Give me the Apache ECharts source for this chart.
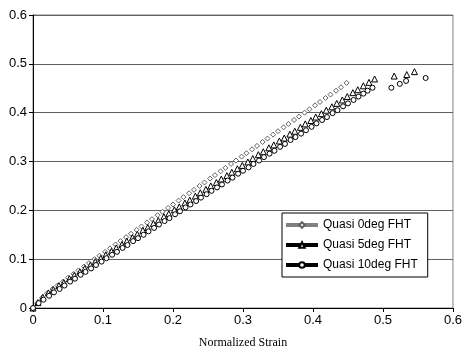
<!DOCTYPE html>
<html>
<head>
<meta charset="utf-8">
<script src="https://cdn.jsdelivr.net/npm/echarts@6/dist/echarts.min.js"></script>
<style>
  html, body { margin: 0; padding: 0; background: #fff; }
  #main { width: 465px; height: 354px; }
</style>
</head>
<body>
<div id="main"></div>
<script>
// tick labels
var xTicks = [0, 0.1, 0.2, 0.3, 0.4, 0.5, 0.6]
var yTicks = [0, 0.1, 0.2, 0.3, 0.4, 0.5, 0.6]

// Quasi 0deg FHT  [strain, stress]
var quasi0 = [
  [0, 0], [0.006, 0.010], [0.013, 0.021], [0.020, 0.030], [0.028, 0.039], [0.035, 0.046],
  [0.043, 0.054], [0.050, 0.062], [0.058, 0.070], [0.065, 0.077], [0.073, 0.085], [0.080, 0.092],
  [0.088, 0.100], [0.095, 0.107], [0.103, 0.115], [0.110, 0.122], [0.118, 0.130], [0.125, 0.137],
  [0.133, 0.145], [0.140, 0.152], [0.148, 0.160], [0.155, 0.167], [0.163, 0.175], [0.170, 0.182],
  [0.178, 0.190], [0.185, 0.197], [0.193, 0.205], [0.200, 0.212], [0.208, 0.220], [0.215, 0.227],
  [0.223, 0.235], [0.230, 0.242], [0.238, 0.250], [0.245, 0.257], [0.253, 0.265], [0.260, 0.272],
  [0.268, 0.280], [0.275, 0.287], [0.283, 0.295], [0.290, 0.302], [0.298, 0.310], [0.305, 0.317],
  [0.313, 0.325], [0.320, 0.332], [0.328, 0.340], [0.335, 0.347], [0.343, 0.355], [0.350, 0.362],
  [0.358, 0.370], [0.365, 0.377], [0.373, 0.385], [0.380, 0.392], [0.388, 0.400], [0.395, 0.407],
  [0.403, 0.415], [0.410, 0.422], [0.418, 0.430], [0.425, 0.437], [0.433, 0.445], [0.440, 0.452],
  [0.448, 0.461]
]

// Quasi 5deg FHT
var quasi5 = [
  [0, 0], [0.007, 0.011], [0.014, 0.022], [0.022, 0.031], [0.029, 0.038], [0.037, 0.046],
  [0.044, 0.052], [0.052, 0.060], [0.059, 0.067], [0.067, 0.074], [0.074, 0.081], [0.082, 0.088],
  [0.089, 0.095], [0.097, 0.102], [0.104, 0.109], [0.112, 0.116], [0.119, 0.123], [0.127, 0.130],
  [0.134, 0.137], [0.142, 0.144], [0.149, 0.151], [0.157, 0.159], [0.164, 0.165], [0.172, 0.173],
  [0.179, 0.179], [0.187, 0.187], [0.194, 0.193], [0.202, 0.201], [0.209, 0.207], [0.217, 0.215],
  [0.224, 0.221], [0.232, 0.229], [0.239, 0.236], [0.247, 0.243], [0.254, 0.250], [0.262, 0.257],
  [0.269, 0.264], [0.277, 0.271], [0.284, 0.278], [0.292, 0.285], [0.299, 0.292], [0.307, 0.299],
  [0.314, 0.306], [0.322, 0.314], [0.329, 0.320], [0.337, 0.328], [0.344, 0.334], [0.352, 0.342],
  [0.359, 0.348], [0.367, 0.356], [0.374, 0.362], [0.382, 0.370], [0.389, 0.377], [0.397, 0.384],
  [0.404, 0.391], [0.412, 0.398], [0.419, 0.405], [0.427, 0.412], [0.434, 0.419], [0.442, 0.426],
  [0.449, 0.433], [0.457, 0.441], [0.464, 0.447], [0.472, 0.455], [0.480, 0.462], [0.488, 0.469],
  [0.516, 0.475], [0.534, 0.478], [0.545, 0.484]
]

// Quasi 10deg FHT
var quasi10 = [
  [0, 0], [0.008, 0.010], [0.015, 0.017], [0.023, 0.025], [0.030, 0.032], [0.038, 0.039],
  [0.045, 0.046], [0.053, 0.054], [0.060, 0.060], [0.068, 0.068], [0.075, 0.074], [0.083, 0.081],
  [0.090, 0.088], [0.098, 0.095], [0.105, 0.102], [0.113, 0.109], [0.120, 0.115], [0.128, 0.123],
  [0.135, 0.129], [0.143, 0.137], [0.150, 0.143], [0.158, 0.150], [0.165, 0.157], [0.173, 0.164],
  [0.180, 0.171], [0.188, 0.178], [0.195, 0.184], [0.203, 0.192], [0.210, 0.198], [0.218, 0.206],
  [0.225, 0.212], [0.233, 0.219], [0.240, 0.226], [0.248, 0.233], [0.255, 0.240], [0.263, 0.247],
  [0.270, 0.253], [0.278, 0.261], [0.285, 0.267], [0.293, 0.275], [0.300, 0.281], [0.308, 0.288],
  [0.315, 0.295], [0.323, 0.302], [0.330, 0.309], [0.338, 0.316], [0.345, 0.322], [0.353, 0.330],
  [0.360, 0.336], [0.368, 0.344], [0.375, 0.350], [0.383, 0.357], [0.390, 0.364], [0.398, 0.371],
  [0.405, 0.378], [0.413, 0.385], [0.420, 0.391], [0.428, 0.399], [0.435, 0.405], [0.443, 0.413],
  [0.450, 0.419], [0.458, 0.426], [0.465, 0.433], [0.472, 0.439], [0.478, 0.445], [0.485, 0.451],
  [0.512, 0.451], [0.524, 0.459], [0.533, 0.465], [0.561, 0.471]
]

var names = ['Quasi 0deg FHT', 'Quasi 5deg FHT', 'Quasi 10deg FHT']

var myChart = echarts.init(document.getElementById('main'))

// markers only, line hidden; legend shows thick line + marker
function markerSeries(name, data, symbol, size, border) {
  return {
    name: name,
    type: 'line',
    data: data,
    symbol: symbol,
    symbolSize: size,
    showAllSymbol: true,
    lineStyle: { opacity: 0 },
    itemStyle: { color: '#fff', borderColor: border, borderWidth: 1 },
    animation: false
  }
}

var option = {
  backgroundColor: '#fff',
  textStyle: { fontFamily: 'Liberation Sans, Arial, sans-serif' },
  grid: {
    left: 33,
    right: 7,
    top: 15,
    bottom: 42,
    show: true,
    borderColor: '#808080',
    borderWidth: 1
  },
  legend: {
    orient: 'vertical',
    left: 282,
    top: 213,
    width: 147,
    itemWidth: 32,
    itemHeight: 7,
    itemGap: 8,
    padding: [6, 10, 6, 2],
    borderColor: '#000',
    borderWidth: 1,
    backgroundColor: '#fff',
    textStyle: { fontSize: 12, color: '#000', fontFamily: 'Liberation Sans, Arial, sans-serif' },
    data: [
      { name: names[0], lineStyle: { color: '#808080', width: 4, opacity: 1 } },
      { name: names[1], lineStyle: { color: '#000', width: 4, opacity: 1 } },
      { name: names[2], lineStyle: { color: '#000', width: 4, opacity: 1 } }
    ]
  },
  xAxis: {
    type: 'value',
    min: xTicks[0],
    max: xTicks[xTicks.length - 1],
    interval: 0.1,
    name: 'Normalized Strain',
    nameLocation: 'middle',
    nameGap: 29,
    nameTextStyle: { fontFamily: 'Liberation Serif, Times New Roman, serif', fontSize: 12, color: '#000' },
    axisLine: { lineStyle: { color: '#000', width: 1 } },
    axisTick: { show: true, length: 4, lineStyle: { color: '#000' } },
    axisLabel: { fontSize: 13, color: '#000', margin: 6 },
    splitLine: { show: false }
  },
  yAxis: {
    type: 'value',
    min: yTicks[0],
    max: yTicks[yTicks.length - 1],
    interval: 0.1,
    axisLine: { show: true, lineStyle: { color: '#000', width: 1 } },
    axisTick: { show: true, length: 4, lineStyle: { color: '#000' } },
    axisLabel: { fontSize: 13, color: '#000', margin: 6 },
    splitLine: { show: true, lineStyle: { color: '#606060', width: 1 } }
  },
  series: [
    markerSeries(names[0], quasi0, 'diamond', 5, '#606060'),
    markerSeries(names[1], quasi5, 'triangle', 6, '#000'),
    markerSeries(names[2], quasi10, 'circle', 5, '#000')
  ]
}

myChart.setOption(option)
</script>
</body>
</html>
